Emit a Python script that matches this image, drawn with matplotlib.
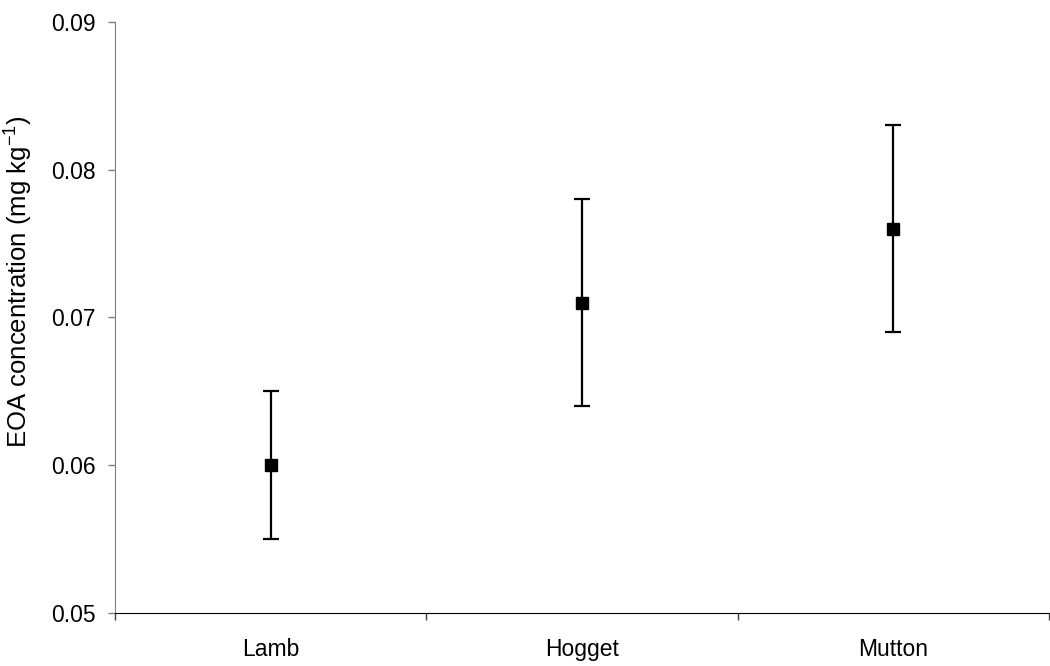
import numpy as np
import matplotlib.pyplot as plt

plt.rcParams['font.family'] = ['Liberation Sans', 'DejaVu Sans']
plt.rcParams['mathtext.default'] = 'regular'

groups = ['Lamb', 'Hogget', 'Mutton']
means = [0.060, 0.071, 0.076]
lower = [0.055, 0.064, 0.069]
upper = [0.065, 0.078, 0.083]

x = np.arange(1, len(groups) + 1)
yerr = [np.subtract(means, lower), np.subtract(upper, means)]

fig = plt.figure(figsize=(10.5, 6.66), dpi=100)
ax = fig.add_axes([115 / 1050, 53 / 666, 934 / 1050, 591 / 666])

ax.errorbar(x, means, yerr=yerr, fmt='s', color='black', ms=8,
            ecolor='black', elinewidth=1.6, capsize=6, capthick=1.6)

ax.set_xlim(0.5, 3.5)
ax.set_ylim(0.05, 0.09)
ax.set_yticks([0.05, 0.06, 0.07, 0.08, 0.09])
ax.set_yticklabels(['0.05', '0.06', '0.07', '0.08', '0.09'])
ax.set_xticks(x)
ax.set_xticklabels(groups)
ax.set_xticks([0.5, 1.5, 2.5, 3.5], minor=True)
ax.tick_params(axis='x', which='major', length=0, pad=18, labelsize=16.5)
ax.tick_params(axis='x', which='minor', length=5, width=1, color='#404040')
ax.tick_params(axis='y', length=5, width=1, color='#808080', labelsize=16.5, pad=9)

for s in ['top', 'right']:
    ax.spines[s].set_visible(False)
ax.spines['left'].set_color('#808080')
ax.spines['bottom'].set_color('black')

ax.set_ylabel('EOA concentration (mg kg$^{-1}$)', size=18.5)
ax.yaxis.set_label_coords(-0.086, 0.56)

fig.savefig('out.png', dpi=100)
